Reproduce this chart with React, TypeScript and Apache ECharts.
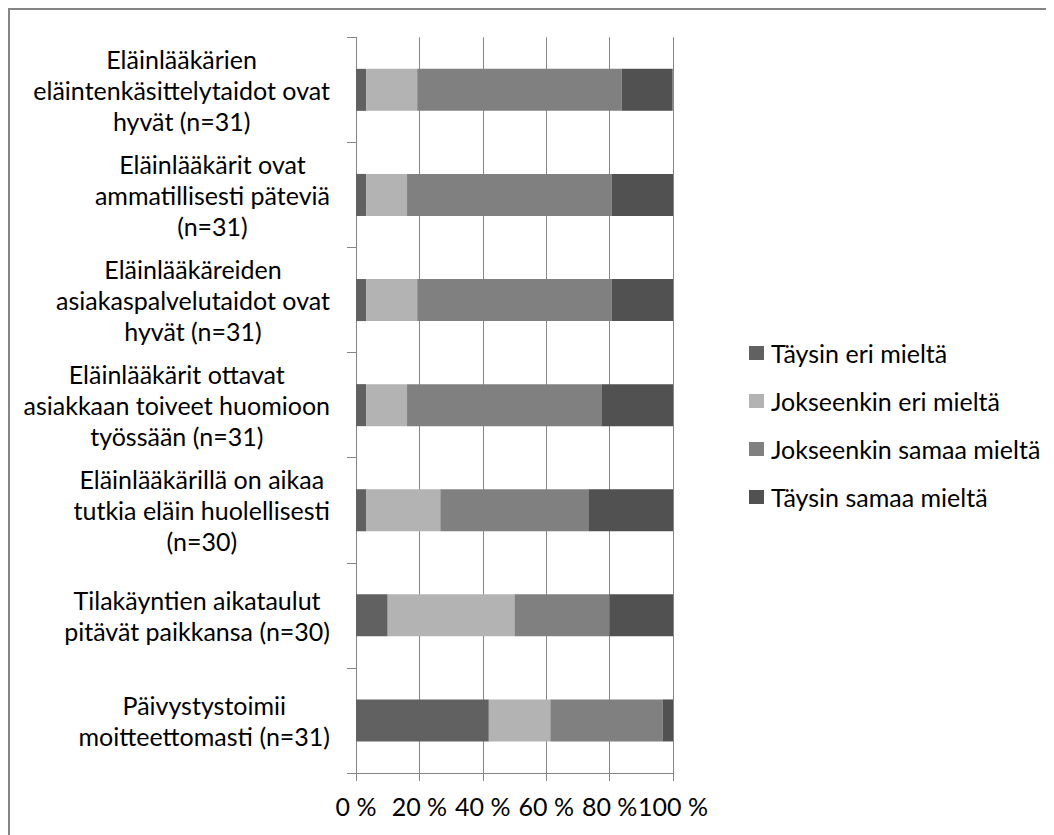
import React, { useEffect, useRef } from "react";
import * as echarts from "echarts";

const categories: string[] = [
  "Eläinlääkärien\neläintenkäsittelytaidot ovat\nhyvät (n=31)",
  "Eläinlääkärit ovat\nammatillisesti päteviä\n(n=31)",
  "Eläinlääkäreiden\nasiakaspalvelutaidot ovat\nhyvät (n=31)",
  "Eläinlääkärit ottavat\nasiakkaan toiveet huomioon\ntyössään (n=31)",
  "Eläinlääkärillä on aikaa\ntutkia eläin huolellisesti\n(n=30)",
  "Tilakäyntien aikataulut\npitävät paikkansa (n=30)",
  "Päivystystoimii\nmoitteettomasti (n=31)",
];

const seriesNames: string[] = [
  "Täysin eri mieltä",
  "Jokseenkin eri mieltä",
  "Jokseenkin samaa mieltä",
  "Täysin samaa mieltä",
];

const taysinEri: number[] = [3.2, 3.2, 3.2, 3.2, 3.3, 10.0, 41.9];
const jokseenkinEri: number[] = [16.1, 12.9, 16.1, 12.9, 23.3, 40.0, 19.4];
const jokseenkinSamaa: number[] = [64.5, 64.5, 61.3, 61.3, 46.7, 30.0, 35.5];
const taysinSamaa: number[] = [16.1, 19.4, 19.4, 22.6, 26.7, 20.0, 3.2];

const xTicks: number[] = [0, 20, 40, 60, 80, 100];

const colors = ["#616161", "#b3b3b3", "#808080", "#515151"];
const FONT = "Lato";
const FS = 25;
const AXIS = "#868686";

export default function App() {
  const ref = useRef<HTMLDivElement>(null);
  useEffect(() => {
    if (!ref.current) return;
    const chart = echarts.init(ref.current, undefined, { renderer: "svg" });
    const values = [taysinEri, jokseenkinEri, jokseenkinSamaa, taysinSamaa];
    chart.setOption({
      animation: false,
      backgroundColor: "#ffffff",
      textStyle: { fontFamily: FONT },
      graphic: [
        {
          type: "rect",
          shape: { x: 1, y: 1, width: 3000, height: 3000 },
          style: { fill: "none", stroke: AXIS, lineWidth: 2 },
          silent: true,
        },
      ],
      grid: { left: 348, right: 381, top: 29.3, bottom: 62 },
      legend: {
        orient: "vertical",
        left: 741,
        top: 331,
        padding: 0,
        itemWidth: 15,
        itemHeight: 14,
        itemGap: 20,
        icon: "rect",
        data: seriesNames,
        textStyle: {
          fontFamily: FONT,
          fontSize: FS,
          lineHeight: 28,
          color: "#000000",
          padding: [0, 0, 0, 2],
        },
      },
      xAxis: {
        type: "value",
        min: xTicks[0],
        max: xTicks[xTicks.length - 1],
        interval: xTicks[1] - xTicks[0],
        axisLine: { show: true, lineStyle: { color: AXIS, width: 1 } },
        axisTick: { show: true, length: 8, lineStyle: { color: AXIS } },
        splitLine: { show: true, lineStyle: { color: AXIS, width: 1 } },
        axisLabel: {
          formatter: "{value} %",
          fontFamily: FONT,
          fontSize: FS,
          color: "#000000",
          margin: 20,
        },
      },
      yAxis: {
        type: "category",
        inverse: true,
        data: categories,
        axisLine: { show: true, lineStyle: { color: AXIS, width: 1 } },
        axisTick: { show: true, length: 9, lineStyle: { color: AXIS } },
        splitLine: { show: false },
        axisLabel: {
          margin: 26,
          color: "#000000",
          interval: 0,
          formatter: (v: string) =>
            v
              .split("\n")
              .map((l) => `{c|${l}}`)
              .join("\n"),
          rich: {
            c: {
              align: "center",
              fontFamily: FONT,
              fontSize: FS,
              lineHeight: 31,
              color: "#000000",
            },
          },
        },
      },
      series: seriesNames.map((name, i) => ({
        name,
        type: "bar",
        stack: "total",
        barCategoryGap: "60%",
        data: values[i],
        itemStyle: { color: colors[i] },
        emphasis: { disabled: true },
      })),
    });
    return () => chart.dispose();
  }, []);
  return <div ref={ref} style={{ width: 1046, height: 827 }} />;
}
